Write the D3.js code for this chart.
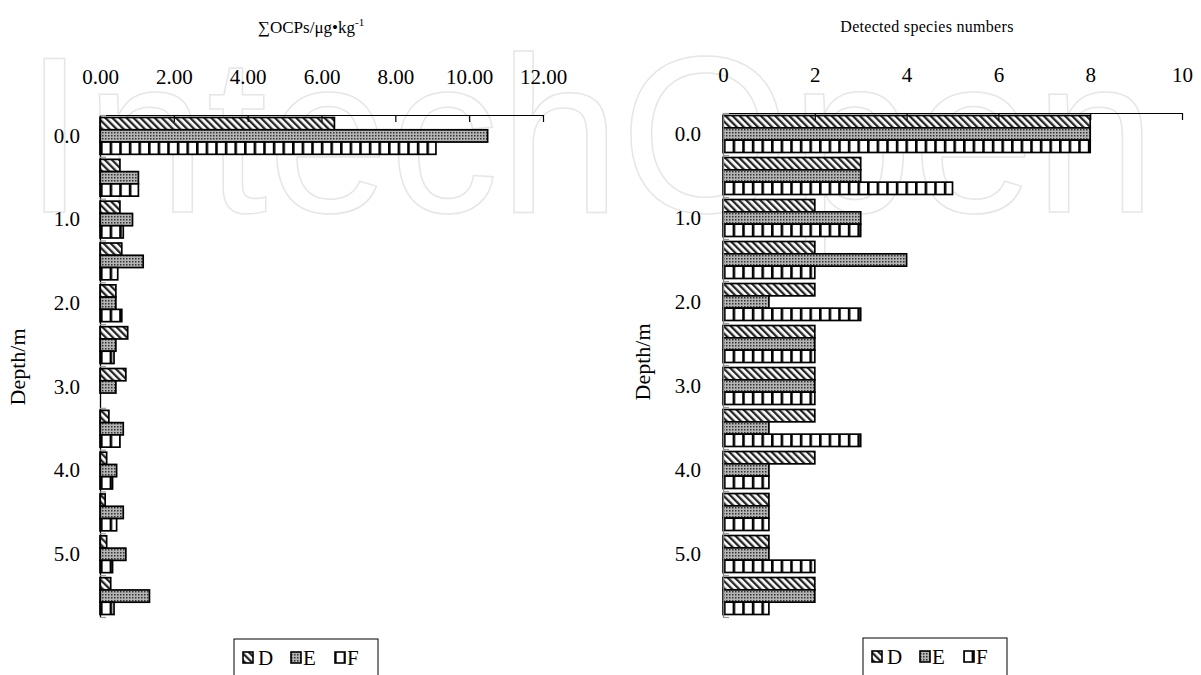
<!DOCTYPE html>
<html>
<head>
<meta charset="utf-8">
<script src="https://cdn.jsdelivr.net/npm/d3@7"></script>
<style>
  body { margin: 0; background: #fff; }
  svg { display: block; }
  text { font-family: "Liberation Serif", "Times New Roman", serif; fill: #000; }
</style>
</head>
<body>
<svg id="chart" width="1201" height="675"></svg>
<script>
// Sampling depths (m) and the subset that gets a label
const depths = ["0.0", "0.5", "1.0", "1.5", "2.0", "2.5", "3.0", "3.5", "4.0", "4.5", "5.0", "5.5"];
const depthLabels = ["0.0", "1.0", "2.0", "3.0", "4.0", "5.0"];
const seriesNames = ["D", "E", "F"];

// Sum of OCPs, µg/kg, per profile
const ocpD = [6.35, 0.54, 0.54, 0.59, 0.43, 0.75, 0.70, 0.24, 0.18, 0.14, 0.18, 0.29];
const ocpE = [10.50, 1.04, 0.88, 1.17, 0.43, 0.43, 0.43, 0.63, 0.45, 0.63, 0.70, 1.34];
const ocpF = [9.10, 1.04, 0.63, 0.48, 0.59, 0.38, null, 0.54, 0.34, 0.45, 0.34, 0.38];
const ocpTicks = [0, 2, 4, 6, 8, 10, 12];

// Number of detected OCP species per profile
const speciesD = [8, 3, 2, 2, 2, 2, 2, 2, 2, 1, 1, 2];
const speciesE = [8, 3, 3, 4, 1, 2, 2, 1, 1, 1, 1, 2];
const speciesF = [8, 5, 3, 2, 3, 2, 2, 3, 1, 1, 2, 1];
const speciesTicks = [0, 2, 4, 6, 8, 10];

const SERIF = "'Liberation Serif', 'Times New Roman', serif";

const svg = d3.select("#chart");
const defs = svg.append("defs");

// Publisher watermark behind the plots
svg.append("text")
  .attr("x", 24).attr("y", 212)
  .attr("textLength", 1132).attr("lengthAdjust", "spacingAndGlyphs")
  .style("font-family", "'Liberation Sans', Arial, sans-serif")
  .style("font-size", "222px")
  .style("fill", "none")
  .style("stroke", "#e6e6e6")
  .style("stroke-width", 1.5)
  .text("IntechOpen");

// Fill patterns: D = diagonal hatch, E = fine dots, F = vertical bars
function makePatterns(suffix, originX) {
  const d = defs.append("pattern")
    .attr("id", "patD" + suffix)
    .attr("patternUnits", "userSpaceOnUse")
    .attr("width", 5).attr("height", 5)
    .attr("patternTransform", "rotate(-45)");
  d.append("rect").attr("width", 5).attr("height", 5).attr("fill", "#fff");
  d.append("rect").attr("x", 0).attr("width", 2.3).attr("height", 5).attr("fill", "#262626");

  const e = defs.append("pattern")
    .attr("id", "patE" + suffix)
    .attr("patternUnits", "userSpaceOnUse")
    .attr("width", 3).attr("height", 3);
  e.append("rect").attr("width", 3).attr("height", 3).attr("fill", "#b4b4b4");
  e.append("rect").attr("width", 1.5).attr("height", 1.5).attr("fill", "#333");

  const f = defs.append("pattern")
    .attr("id", "patF" + suffix)
    .attr("patternUnits", "userSpaceOnUse")
    .attr("x", originX)
    .attr("width", 9.6).attr("height", 10);
  f.append("rect").attr("width", 9.6).attr("height", 10).attr("fill", "#fff");
  f.append("rect").attr("x", 0).attr("width", 2.6).attr("height", 10).attr("fill", "#000");
}

function drawPanel(cfg) {
  makePatterns(cfg.id, cfg.xRange[0]);

  const x = d3.scaleLinear().domain([0, cfg.xMax]).range(cfg.xRange);
  const y = d3.scaleBand().domain(depths).range(cfg.yRange)
    .paddingInner(0.12).paddingOuter(0.06);
  const ySub = d3.scaleBand().domain(seriesNames).range([0, y.bandwidth()]);
  const yEdge = d3.scaleLinear().domain([0, depths.length]).range(cfg.yRange);

  const g = svg.append("g");

  // Bars
  cfg.series.forEach((vals, si) => {
    const name = seriesNames[si];
    g.append("g").selectAll("rect")
      .data(depths.map((dep, i) => ({ dep, v: vals[i] })).filter(d => d.v != null))
      .join("rect")
      .attr("x", x(0))
      .attr("y", d => y(d.dep) + ySub(name))
      .attr("width", d => x(d.v) - x(0))
      .attr("height", ySub.bandwidth())
      .attr("fill", `url(#pat${name}${cfg.id})`)
      .attr("stroke", "#000")
      .attr("stroke-width", 1.7);
  });

  // Value axis along the top, ticks pointing into the plot
  const xAxis = g.append("g")
    .attr("transform", `translate(0,${cfg.yRange[0]})`)
    .call(d3.axisTop(x).tickValues(cfg.ticks).tickFormat(cfg.fmt)
      .tickSizeInner(-7).tickSizeOuter(0).tickPadding(31));
  xAxis.select(".domain").attr("stroke", "#000").attr("stroke-width", 1.2);
  xAxis.selectAll(".tick line").attr("stroke", "#000").attr("stroke-width", 1.2);
  xAxis.selectAll(".tick text")
    .style("font-family", SERIF).style("font-size", "21px").attr("fill", "#000");

  // Depth axis: category boundary ticks
  const yAxis = g.append("g")
    .attr("transform", `translate(${cfg.xRange[0]},0)`)
    .call(d3.axisRight(yEdge).tickValues(d3.range(0, depths.length + 1))
      .tickFormat("").tickSizeInner(6).tickSizeOuter(0));
  yAxis.select(".domain").attr("stroke", cfg.yAxisColor).attr("stroke-width", 1.3);
  yAxis.selectAll(".tick line").attr("stroke", "#999").attr("stroke-width", 1.2);

  // Depth labels
  const yLab = g.append("g")
    .attr("transform", `translate(${cfg.xRange[0]},0)`)
    .call(d3.axisLeft(y).tickValues(depthLabels).tickSize(0).tickPadding(cfg.labelPad));
  yLab.select(".domain").remove();
  yLab.selectAll(".tick text")
    .style("font-family", SERIF).style("font-size", "21px").attr("fill", "#000");

  // Axis titles
  cfg.drawTitle(g);
  g.append("text")
    .attr("transform", `translate(${cfg.depthTitle[0]},${cfg.depthTitle[1]}) rotate(-90)`)
    .attr("text-anchor", "middle")
    .style("font-family", SERIF)
    .style("font-size", "22px")
    .text("Depth/m");

  // Legend
  const lg = g.append("g").attr("transform", `translate(${cfg.legend[0]},${cfg.legend[1]})`);
  lg.append("rect").attr("width", 144).attr("height", 48)
    .attr("fill", "#fff").attr("stroke", "#000").attr("stroke-width", 1);
  const items = [[9, 24], [57, 69], [101, 113]];
  seriesNames.forEach((name, i) => {
    lg.append("rect")
      .attr("x", items[i][0]).attr("y", 13)
      .attr("width", 10).attr("height", 11)
      .attr("fill", `url(#pat${name}${cfg.id})`)
      .attr("stroke", "#000").attr("stroke-width", 1.6);
    lg.append("text")
      .attr("x", items[i][1]).attr("y", 26)
      .style("font-family", SERIF)
      .style("font-size", "21px")
      .text(name);
  });
}

drawPanel({
  id: "L",
  xMax: 12,
  xRange: [100, 543],
  yRange: [115, 617],
  ticks: ocpTicks,
  fmt: d3.format(".2f"),
  series: [ocpD, ocpE, ocpF],
  yAxisColor: "#000",
  labelPad: 20,
  depthTitle: [25, 367],
  legend: [234, 639],
  drawTitle: g => {
    const t = g.append("text").attr("x", 311).attr("y", 33)
      .attr("text-anchor", "middle").style("font-family", SERIF).style("font-size", "17px");
    t.append("tspan").text("\u2211OCPs/\u03bcg\u2022kg");
    t.append("tspan").attr("dy", -7).style("font-size", "11px").text("-1");
  }
});

drawPanel({
  id: "R",
  xMax: 10,
  xRange: [723, 1182],
  yRange: [113, 617],
  ticks: speciesTicks,
  fmt: d3.format("d"),
  series: [speciesD, speciesE, speciesF],
  yAxisColor: "#7a7a7a",
  labelPad: 22,
  depthTitle: [650, 362],
  legend: [863, 638],
  drawTitle: g => {
    g.append("text").attr("x", 927).attr("y", 32)
      .attr("text-anchor", "middle").style("font-family", SERIF).style("font-size", "16px")
      .style("letter-spacing", "0.3px")
      .text("Detected species numbers");
  }
});
</script>
</body>
</html>
